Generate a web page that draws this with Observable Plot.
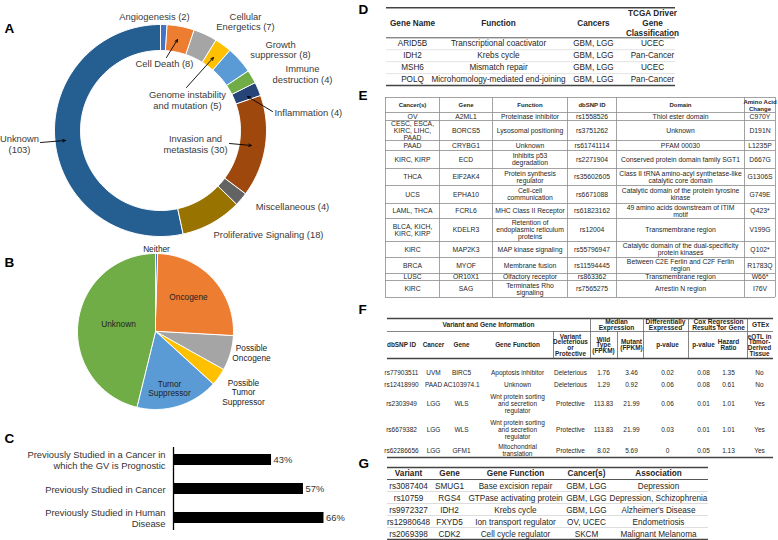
<!DOCTYPE html>
<html><head><meta charset="utf-8">
<script src="https://cdn.jsdelivr.net/npm/d3@7"></script>
<script src="https://cdn.jsdelivr.net/npm/@observablehq/plot@0.6"></script>
<style>
body{margin:0;background:#fff;}
#wrap{position:relative;width:778px;height:540px;overflow:hidden;background:#fff;}
#wrap > div{position:absolute;}
</style></head><body>
<div id="wrap"><div id="main" style="left:0;top:0"></div><div id="panelC" style="left:0;top:420px"></div></div>
<script>
// ---------- DATA ----------
// Panel A: hallmarks of cancer (donut)
const hallmarks = ["Angiogenesis","Cell Death","Cellular Energetics","Genome instability and mutation","Growth suppressor","Immune destruction","Inflammation","Invasion and metastasis","Miscellaneous","Proliferative Signaling","Unknown"];
const hallmarkCounts = [2,8,7,5,8,4,4,30,4,18,103];
const hallmarkColors = ["#4472C4","#ED7D31","#A5A5A5","#FFC000","#5B9BD5","#70AD47","#264478","#9E480E","#636363","#997300","#255E91"];
// Panel B: gene roles (pie)
const roles = ["Neither","Oncogene","Possible Oncogene","Possible Tumor Suppressor","Tumor Suppressor","Unknown"];
const roleCounts = [1,49,14,7,33,89];
const roleColors = ["#4472C4","#ED7D31","#A5A5A5","#FFC000","#5B9BD5","#70AD47"];
// Panel C: bars
const cCategories = ["Previously Studied in a Cancer in\nwhich the GV is Prognostic","Previously Studied in Cancer","Previously Studied in Human\nDisease"];
const cValues = [43,57,66];
// Panel D table
const dHeaders = ["Gene Name","Function","Cancers","TCGA Driver\nGene\nClassification"];
const dGenes = ["ARID5B","IDH2","MSH6","POLQ"];
const dFunctions = ["Transcriptional coactivator","Krebs cycle","Mismatch repair","Microhomology-mediated end-joining"];
const dCancers = ["GBM, LGG","GBM, LGG","GBM, LGG","GBM, LGG"];
const dTcga = ["UCEC","Pan-Cancer","UCEC","Pan-Cancer"];
// Panel E table
const eHeaders = ["Cancer(s)","Gene","Function","dbSNP ID","Domain","Amino Acid\nChange"];
const eCancers = ["OV","CESC, ESCA,\nKIRC, LIHC,\nPAAD","PAAD","KIRC, KIRP","THCA","UCS","LAML, THCA","BLCA, KICH,\nKIRC, KIRP","KIRC","BRCA","LUSC","KIRC"];
const eGenes = ["A2ML1","BORCS5","CRYBG1","ECD","EIF2AK4","EPHA10","FCRL6","KDELR3","MAP2K3","MYOF","OR10X1","SAG"];
const eFunctions = ["Proteinase inhibitor","Lysosomal positioning","Unknown","Inhibits p53\ndegradation","Protein synthesis\nregulator","Cell-cell\ncommunication","MHC Class II Receptor","Retention of\nendoplasmic reticulum\nproteins","MAP kinase signaling","Membrane fusion","Olfactory receptor","Terminates Rho\nsignaling"];
const eSnps = ["rs1558526","rs3751262","rs61741114","rs2271904","rs35602605","rs6671088","rs61823162","rs12004","rs55796947","rs11594445","rs863362","rs7565275"];
const eDomains = ["Thiol ester domain","Unknown","PFAM 00030","Conserved protein domain family SGT1","Class II tRNA amino-acyl synthetase-like\ncatalytic core domain","Catalytic domain of the protein tyrosine\nkinase","49 amino acids downstream of ITIM\nmotif","Transmembrane region","Catalytic domain of the dual-specificity\nprotein kinases","Between C2E Ferlin and C2F Ferlin\nregion","Transmembrane region","Arrestin N region"];
const eChanges = ["C970Y","D191N","L1235P","D667G","G1306S","G749E","Q423*","V199G","Q102*","R1783Q","W66*","I76V"];
// Panel F table
const fGroupHeaders = ["Variant and Gene Information","Median\nExpression","Differentially\nExpressed","Cox Regression\nResults for Gene","GTEx"];
const fHeaders = ["dbSNP ID","Cancer","Gene","Gene Function","Variant\nDeleterious\nor\nProtective","Wild\nType\n(FPKM)","Mutant\n(FPKM)","p-value","p-value","Hazard\nRatio","eQTL in\nTumor-\nDerived\nTissue"];
const fSnps = ["rs77903511","rs12418990","rs2303949","rs6679382","rs62286656"];
const fCancers = ["UVM","PAAD","LGG","LGG","LGG"];
const fGenes = ["BIRC5","AC103974.1","WLS","WLS","GFM1"];
const fFunctions = ["Apoptosis inhibitor","Unknown","Wnt protein sorting\nand secretion\nregulator","Wnt protein sorting\nand secretion\nregulator","Mitochondrial\ntranslation"];
const fEffects = ["Deleterious","Deleterious","Protective","Protective","Protective"];
const fWild = ["1.76","1.29","113.83","113.83","8.02"];
const fMutant = ["3.46","0.92","21.99","21.99","5.69"];
const fDeP = ["0.02","0.06","0.06","0.03","0"];
const fCoxP = ["0.08","0.08","0.01","0.01","0.05"];
const fHazard = ["1.35","0.61","1.01","1.01","1.13"];
const fEqtl = ["No","No","Yes","Yes","Yes"];
// Panel G table
const gHeaders = ["Variant","Gene","Gene Function","Cancer(s)","Association"];
const gVariants = ["rs3087404","rs10759","rs9972327","rs12980648","rs2069398"];
const gGenes = ["SMUG1","RGS4","IDH2","FXYD5","CDK2"];
const gFunctions = ["Base excision repair","GTPase activating protein","Krebs cycle","Ion transport regulator","Cell cycle regulator"];
const gCancers = ["GBM, LGG","GBM, LGG","GBM, LGG","OV, UCEC","SKCM"];
const gAssociations = ["Depression","Depression, Schizophrenia","Alzheimer's Disease","Endometriosis","Malignant Melanoma"];

// ---------- LAYOUT ----------
const FONT = '"Liberation Sans", Arial, Helvetica, sans-serif';
const donutGeom = {cx:160, cy:130, r0:80, r1:106};
const pieGeom = {cx:155, cy:331, r0:0, r1:78};
// label placements (x, y, words before a line break; "all" = break at every space)
const donutLabelPos = [
  {x:154,y:16,brk:0},{x:164,y:63,brk:0},{x:245,y:21,brk:1},{x:187,y:99.5,brk:2},
  {x:280,y:49,brk:1},{x:302,y:73.5,brk:1},{x:274,y:112,brk:0,start:true},
  {x:195,y:143.5,brk:2},{x:292,y:206,brk:0},{x:268,y:234,brk:0},{x:19,y:143.5,brk:1}
];
const donutArrows = [
  {x1:166,y1:57,x2:177,y2:39},{x1:186,y1:87,x2:213,y2:57},{x1:272,y1:111,x2:247,y2:96},
  {x1:40,y1:142,x2:65,y2:140},{x1:229,y1:143,x2:251,y2:145}
];
const pieLabelPos = [
  {x:156,y:248,brk:0},{x:188,y:296,brk:0},{x:251,y:352.5,brk:"all"},
  {x:243,y:391.5,brk:"all"},{x:169,y:388,brk:"all"},{x:118,y:323,brk:0}
];
const panelLetters = [
  {t:"A",x:4,y:28},{t:"B",x:4,y:262},{t:"C",x:4,y:438},
  {t:"D",x:358,y:9},{t:"E",x:358,y:95},{t:"F",x:358,y:309},{t:"G",x:358,y:463}
];

function wrapLabel(s, brk){
  const w = s.split(" ");
  if (brk === "all") return w.join("\n");
  if (!brk) return s;
  return w.slice(0,brk).join(" ") + "\n" + w.slice(brk).join(" ");
}
function ringPoints(names, counts, colors, g){
  const arcs = d3.pie().sort(null).value(d=>d.count)(names.map((n,i)=>({name:n,count:counts[i],color:colors[i]})));
  return arcs.flatMap(a=>{
    const pts=[]; const n=Math.max(2,Math.ceil((a.endAngle-a.startAngle)/(Math.PI/120)));
    for(let i=0;i<=n;i++){const t=a.startAngle+(a.endAngle-a.startAngle)*i/n; pts.push({key:a.data.name,color:a.data.color,x:g.cx+g.r1*Math.sin(t),y:g.cy-g.r1*Math.cos(t)});}
    if(g.r0>0){for(let i=n;i>=0;i--){const t=a.startAngle+(a.endAngle-a.startAngle)*i/n; pts.push({key:a.data.name,color:a.data.color,x:g.cx+g.r0*Math.sin(t),y:g.cy-g.r0*Math.cos(t)});}}
    else pts.push({key:a.data.name,color:a.data.color,x:g.cx,y:g.cy});
    return pts;
  });
}
function cells(columns, colX, rowY){
  const out=[];
  columns.forEach((col,j)=>col.forEach((t,i)=>out.push({x:colX[j],y:rowY[i],text:t})));
  return out;
}
const hl = (y,x1,x2,w,c)=>({y,x1,x2,w,c});
const vl = (x,y1,y2,w,c)=>({x,y1,y2,w,c});

// Table D layout
const dColX=[412,498,593,652], dRowY=[43.3,55.2,67.1,79];
const dRules=[hl(7.3,386,675,1.4,"#444"),hl(37.3,386,675,0.9,"#444"),hl(49.2,386,675,0.5,"#c8c8c8"),hl(61.1,386,675,0.5,"#c8c8c8"),hl(73.1,386,675,0.5,"#c8c8c8"),hl(85,386,675,1.4,"#444")];
// Table E layout
const eBounds=[97,112,120,140,150,168,185,203,218,241,257,273,280,297];
const eColB=[385,439,492,567,616,744,775];
const eColX=eColB.slice(1).map((b,i)=>(b+eColB[i])/2);
const eRowY=eBounds.slice(1).map((b,i)=>(b+eBounds[i])/2).slice(1);
const eRules=eBounds.map(y=>hl(y,385,775,0.8,"#8c8c8c"));
const eVRules=eColB.map(x=>vl(x,97,297,0.8,"#8c8c8c"));
// Table F layout
const fGroupX=[488,616,665,718,760];
const fColX=[401,433,461,517,570,603,631,667,703,728,759];
const fRowY=[372,384,403.5,429.5,450];
const fRules=[hl(318,387,773,1.4,"#444"),hl(331,387,773,0.8,"#666"),hl(358,387,773,1.4,"#444"),hl(457,387,773,1.4,"#444")];
const fVRules=[vl(590,318,358,0.8,"#666"),vl(643,318,358,0.8,"#666"),vl(688,318,358,0.8,"#666"),vl(747,318,358,0.8,"#666"),vl(553,331,358,0.8,"#666"),vl(617,331,358,0.8,"#666")];
// Table G layout
const gColX=[408,449,515,586,658];
const gRowY=[485.5,497.5,509.5,521.5,533.5];
const gRules=[hl(467,387,708,1.4,"#444"),hl(479,387,708,0.9,"#444"),hl(491,387,708,0.5,"#bbb"),hl(503,387,708,0.5,"#bbb"),hl(515,387,708,0.5,"#bbb"),hl(527,387,708,0.5,"#bbb"),hl(539,387,708,1.4,"#444")];

// ---------- MAIN PLOT ----------
const donutPts = ringPoints(hallmarks, hallmarkCounts, hallmarkColors, donutGeom);
const piePts = ringPoints(roles, roleCounts, roleColors, pieGeom);
const donutLabels = hallmarks.map((h,i)=>({x:donutLabelPos[i].x,y:donutLabelPos[i].y,start:!!donutLabelPos[i].start,text:wrapLabel(`${h} (${hallmarkCounts[i]})`, donutLabelPos[i].brk)}));
const pieLabels = roles.map((r,i)=>({x:pieLabelPos[i].x,y:pieLabelPos[i].y,text:wrapLabel(r,pieLabelPos[i].brk)}));
const allRules=[...dRules,...eRules,...fRules,...gRules];
const allVRules=[...eVRules,...fVRules];
const txt=(data,o)=>Plot.text(data,{x:"x",y:"y",text:"text",lineAnchor:"middle",fill:"#262626",...o});

const main = Plot.plot({
  width:778, height:540, margin:0,
  x:{type:"identity",axis:null}, y:{type:"identity",axis:null},
  color:{type:"identity"},
  style:{fontFamily:FONT, background:"transparent", overflow:"visible"},
  marks:[
    Plot.line(donutPts,{x:"x",y:"y",z:"key",fill:"color",stroke:"#fff",strokeWidth:1,curve:"linear-closed"}),
    Plot.line(piePts,{x:"x",y:"y",z:"key",fill:"color",stroke:"#fff",strokeWidth:1,curve:"linear-closed"}),
    Plot.arrow(donutArrows,{x1:"x1",y1:"y1",x2:"x2",y2:"y2",stroke:"#000",strokeWidth:0.9,headLength:5,headAngle:50}),
    txt(donutLabels.filter(d=>!d.start),{fontSize:9.4,lineHeight:1.12,fill:"#3a3a3a"}),
    txt(donutLabels.filter(d=>d.start),{textAnchor:"start",fontSize:9.4,fill:"#3a3a3a"}),
    txt(pieLabels,{fontSize:8.3,lineHeight:1.15,fill:"#222"}),
    Plot.text(panelLetters,{x:"x",y:"y",text:"t",textAnchor:"start",lineAnchor:"middle",fontSize:13.5,fontWeight:"bold",fill:"#000"}),
    Plot.ruleY(allRules,{y:"y",x1:"x1",x2:"x2",strokeWidth:"w",stroke:"c"}),
    Plot.ruleX(allVRules,{x:"x",y1:"y1",y2:"y2",strokeWidth:"w",stroke:"c"}),
    // D
    txt(dHeaders.map((t,j)=>({x:dColX[j],y:22.5,text:t})),{fontSize:8.2,fontWeight:"bold",lineHeight:1.2}),
    txt(cells([dGenes,dFunctions,dCancers,dTcga],dColX,dRowY),{fontSize:8.2}),
    // E
    txt(eHeaders.map((t,j)=>({x:eColX[j],y:104.5,text:t})),{fontSize:6.0,fontWeight:"bold",lineHeight:1.15}),
    txt(cells([eCancers,eGenes,eFunctions,eSnps,eDomains,eChanges],eColX,eRowY),{fontSize:6.8,lineHeight:1.03}),
    // F
    txt(fGroupHeaders.map((t,j)=>({x:fGroupX[j],y:324.5,text:t})),{fontSize:6.6,fontWeight:"bold",lineHeight:0.92}),
    txt(fHeaders.map((t,j)=>({x:fColX[j],y:345,text:t})),{fontSize:6.4,fontWeight:"bold",lineHeight:0.9}),
    txt(cells([fSnps,fCancers,fGenes,fFunctions,fEffects,fWild,fMutant,fDeP,fCoxP,fHazard,fEqtl],fColX,fRowY),{fontSize:6.5,lineHeight:1.08}),
    // G
    txt(gHeaders.map((t,j)=>({x:gColX[j],y:473,text:t})),{fontSize:8.2,fontWeight:"bold"}),
    txt(cells([gVariants,gGenes,gFunctions,gCancers,gAssociations],gColX,gRowY),{fontSize:8.2})
  ]
});
document.getElementById("main").appendChild(main);

// ---------- PANEL C ----------
const cData = cCategories.map((c,i)=>({label:c,value:cValues[i]}));
const chartC = Plot.plot({
  width:360, height:120, marginTop:27, marginBottom:10, marginLeft:173, marginRight:0,
  x:{domain:[0,100], range:[173,401], axis:null},
  y:{domain:cCategories, paddingInner:0.62, paddingOuter:0.225, axis:null},
  style:{fontFamily:FONT, background:"transparent", overflow:"visible"},
  marks:[
    Plot.barX(cData,{x:"value",y:"label",fill:"#000"}),
    Plot.ruleX([0],{stroke:"#000",strokeWidth:1.3}),
    Plot.text(cData,{x:0,y:"label",text:"label",dx:-8,textAnchor:"end",lineAnchor:"middle",fontSize:9.4,lineHeight:1.17,fill:"#333"}),
    Plot.text(cData,{x:"value",y:"label",text:d=>d.value+"%",dx:2,textAnchor:"start",fontSize:9.4,fill:"#333"})
  ]
});
document.getElementById("panelC").appendChild(chartC);
</script>
</body></html>
